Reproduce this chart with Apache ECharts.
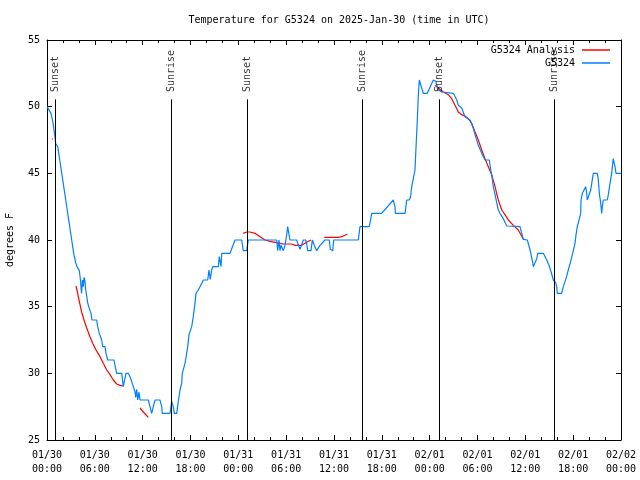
<!DOCTYPE html>
<html><head><meta charset="utf-8">
<script src="https://cdn.jsdelivr.net/npm/echarts@6/dist/echarts.min.js"></script>
<style>html,body{margin:0;padding:0;background:#fff}#c{width:640px;height:480px}</style>
</head><body><div id="c"></div>
<script>
const titleText = 'Temperature for G5324 on 2025-Jan-30 (time in UTC)';
const xTickLabels = ['01/30\n00:00','01/30\n06:00','01/30\n12:00','01/30\n18:00','01/31\n00:00','01/31\n06:00','01/31\n12:00','01/31\n18:00','02/01\n00:00','02/01\n06:00','02/01\n12:00','02/01\n18:00','02/02\n00:00'];
// hours since 2025-01-30 00:00 UTC
const obsHours = [0,0.25,0.5,0.75,1.0,1.1,1.35,1.6,1.85,2.1,2.35,2.6,2.85,3.1,3.35,3.6,3.76,3.89,4.05,4.2,4.33,4.45,4.55,4.65,4.75,4.85,4.98,5.1,5.23,5.39,5.52,5.64,6.23,6.36,6.56,6.74,6.86,6.99,7.28,7.4,7.61,8.4,8.53,8.74,9.37,9.57,9.9,10.0,10.2,10.41,10.7,10.83,11.04,11.13,11.25,11.38,11.54,11.67,12.71,12.92,13.13,13.33,13.55,14.17,14.39,14.46,15.43,15.64,15.84,15.97,16.27,16.47,16.68,16.9,16.97,17.22,17.31,17.52,17.65,17.81,18.03,18.15,18.35,18.56,18.69,18.98,19.19,19.61,20.16,20.32,20.48,20.66,20.79,21.49,21.61,21.83,21.91,22.96,23.58,24.42,24.62,25.05,25.25,28.81,28.94,29.1,29.23,29.35,29.52,29.64,29.85,30.07,30.19,30.36,30.48,31.32,31.45,31.74,31.95,32.15,32.45,32.58,32.7,33.12,33.28,33.53,33.83,34.25,34.87,35.41,35.54,35.84,35.96,39.05,39.26,40.43,40.73,41.98,43.44,43.65,43.7,44.91,45.12,45.45,45.62,45.75,45.95,46.16,46.29,46.45,46.57,46.7,46.88,47.2,47.7,48.46,48.76,49.08,49.51,50.97,51.4,51.6,52.02,52.43,53.06,53.27,53.47,53.69,54.1,54.31,54.73,54.94,55.48,55.66,55.82,55.98,56.2,56.41,56.61,56.82,57.24,57.67,59.33,59.55,59.75,60.25,60.59,60.93,61.0,61.25,61.43,61.56,62.26,62.68,63.01,63.22,63.38,63.51,63.81,63.94,64.01,64.56,64.76,65.1,65.39,65.69,65.94,66.23,66.36,66.52,66.77,66.95,66.98,67.15,67.36,67.57,67.7,67.77,68.02,68.2,68.45,68.53,69.03,69.16,69.28,69.46,69.58,69.66,69.78,70.28,70.41,70.62,70.83,70.96,71.03,71.25,71.37,72];
const obsTemps = [50,50,49.5,48.8,47.7,47.2,47,46,45,44,43,42,41,40,39,38.3,38,38,37.7,37,36,37,36.5,37.2,37,36.3,35.8,35.3,35,35,34.5,34,34,33.5,33,33,32.5,32,32,31.5,31,31,30.6,30,30,29,30,30,30,29.75,29.25,29,28.6,28.2,28.8,28,28.6,28,28,27.5,27,27.5,28,28,27.5,27,27,27.9,27.5,27,27,27.9,28.75,29.25,30,30.1,30.75,31.5,32,32.9,33,33.5,34.25,35.25,36,36.25,36.5,37,37,37.75,37.05,37.75,38,38,38.75,38,39,39,40,40,39.2,39.2,40,40,39.2,40,39.2,39.6,39.6,39.2,39.6,40.4,41,40.4,40,40,39.75,39.3,39.3,40,40,39.7,39.2,39.2,40,39.6,39.2,39.6,40,40,39.3,39.2,40,40,41,41,42,42,43,42.5,42,42,43,43,43.3,44,44,45.25,47,49,50.75,52,52,51,51,52,51.9,51.25,51.1,51,50.5,50.1,49.9,49.25,49,49,48.4,47.9,47.1,47,46.25,46,46,45.25,44.75,44,43.4,42.8,42.25,42,41.6,41.05,41,40.5,40.05,40,39.25,38.3,38,38,38.6,39,39,38.5,38.05,38,37.3,37,36.8,36.5,36,36,36.5,37.1,37.75,38.4,39,39.75,40.4,41,41,42,43,43.5,43.75,44,43.5,43,43,43.75,44.7,45,45,44.5,43.5,42.75,42,42.5,43,43,43.4,44.25,45,45.75,46.1,45.5,45,45];
// analysis: null temps mark gaps
const anaHours = [0.6,0.72,0.73, 3.64,3.85,4.05,4.35,4.64,4.98,5.39,5.73,6.15,6.65,7.06,7.49,7.9,8.32,8.74,9.16,9.57,9.6, 11.67,12.08,12.71,12.75, 24.62,25.05,25.46,26.09,26.72,27.35,27.97,28.81,29.23,29.64,30.69,31.11,31.52,31.95,32.36,32.78,33.12,33.2, 34.78,36.54,36.97,37.67,37.7, 48.67,49.08,49.71,50.34,50.76,51.18,51.6,52.02,52.43,52.85,53.27,53.69,54.1,54.53,54.94,55.36,55.78,56.2,56.61,57.04,57.45,57.87,58.5,59.12,59.75];
const anaTemps = [47.6,47.55,null, 36.55,36,35.4,34.6,34,33.4,32.75,32.25,31.75,31.25,30.75,30.25,29.9,29.5,29.2,29.1,29.05,null, 27.4,27.1,26.7,null, 40.5,40.6,40.6,40.5,40.25,40,39.9,39.8,39.75,39.7,39.7,39.6,39.6,39.6,39.75,39.9,40,null, 40.2,40.2,40.25,40.45,null, 51.6,51.4,51.1,50.9,50.6,50.1,49.6,49.4,49.3,49.1,48.75,48.1,47.5,46.75,46.1,45.5,44.9,44,43,42.25,41.9,41.5,41.1,40.75,40.05];
const sunHours = [1.04, 15.6, 25.17, 39.6, 49.17, 63.6];
const sunLabels = ['Sunset','Sunrise','Sunset','Sunrise','Sunset','Sunrise'];

const FONT = 'DejaVu Sans Mono';
const chart = echarts.init(document.getElementById('c'));
const obsData = obsHours.map((h,i)=>[h, obsTemps[i]]);
const anaData = anaHours.map((h,i)=>[h, anaTemps[i]]);
const axisBase = {
  type:'value', min:0, max:72, interval:6,
  axisLine:{show:true, onZero:false, lineStyle:{color:'#000', width:1}},
  axisTick:{show:true, inside:true, length:5, lineStyle:{color:'#000'}},
  minorTick:{show:true, splitNumber:3, length:3, lineStyle:{color:'#000'}},
  splitLine:{show:false}, minorSplitLine:{show:false}
};
const yBase = {
  type:'value', min:25, max:55, interval:5,
  axisLine:{show:true, onZero:false, lineStyle:{color:'#000', width:1}},
  axisTick:{show:true, inside:true, length:5, lineStyle:{color:'#000'}},
  splitLine:{show:false}
};
const legendBase = {orient:'vertical', align:'right', padding:0, icon:'rect',
  itemWidth:28, itemHeight:1.5, selectedMode:false,
  textStyle:{fontFamily:FONT, fontSize:10, color:'#000', padding:[0,2,0,0]}};
chart.setOption({
  animation:false,
  backgroundColor:'#fff',
  title:{text:titleText, left:334, top:10, textAlign:'center',
    textStyle:{fontFamily:FONT, fontSize:10, fontWeight:'normal', color:'#000'}},
  grid:{left:47, right:19, top:40, bottom:40, containLabel:false, outerBoundsMode:'none'},
  legend:[
    Object.assign({}, legendBase, {data:['G5324 Analysis'], right:30, top:45}),
    Object.assign({}, legendBase, {data:['G5324'], right:30, top:58})
  ],
  xAxis:[
    Object.assign({}, axisBase, {position:'bottom',
      axisLabel:{show:true, margin:8, fontFamily:FONT, fontSize:10, color:'#000', lineHeight:14,
        showMinLabel:true, showMaxLabel:true,
        formatter:v=>xTickLabels[Math.round(v/6)]}}),
    Object.assign({}, axisBase, {position:'top', axisLabel:{show:false}})
  ],
  yAxis:[
    Object.assign({}, yBase, {position:'left',
      axisLabel:{show:true, margin:7, fontFamily:FONT, fontSize:10, color:'#000'},
      name:'degrees F', nameLocation:'middle', nameGap:32, nameRotate:90,
      nameTextStyle:{fontFamily:FONT, fontSize:10, color:'#000'}}),
    Object.assign({}, yBase, {position:'right', axisLabel:{show:false}})
  ],
  series:[
    {name:'G5324 Analysis', type:'line', data:anaData, showSymbol:false, symbol:'none',
     connectNulls:false, z:2, lineStyle:{color:'#ff0000', width:1.2}, itemStyle:{color:'#ff0000'}},
    {name:'G5324', type:'line', data:obsData, showSymbol:false, symbol:'none', z:3,
     lineStyle:{color:'#0080ff', width:1.2}, itemStyle:{color:'#0080ff'}},
    {name:'sun', type:'scatter', symbolSize:0, z:4, silent:true,
     data:sunHours.map((h,i)=>({value:[h, 51.1], name:sunLabels[i]})),
     label:{show:true, formatter:p=>p.name, rotate:90, position:[0,0], align:'left', verticalAlign:'middle',
       fontFamily:FONT, fontSize:10, color:'#000'},
     markLine:{silent:true, symbol:['none','none'], label:{show:false},
       lineStyle:{color:'#000', width:1, type:'solid'},
       data:sunHours.map(h=>[{coord:[h,25]},{coord:[h,50.55]}])}}
  ]
});
</script></body></html>
